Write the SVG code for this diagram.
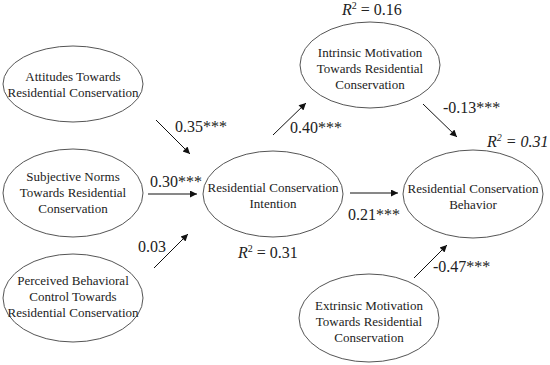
<svg xmlns="http://www.w3.org/2000/svg" width="550" height="365" viewBox="0 0 550 365">
<style>
text{font-family:'Liberation Serif','Times New Roman',serif;fill:#222}
.node ellipse{fill:#fff;stroke:#555;stroke-width:1}
.node text{font-size:13px;text-anchor:middle}
.lbl{font-size:16px}
#connectors line{stroke:#111;stroke-width:1;marker-end:url(#ah)}
</style>
<defs>
<marker id="ah" viewBox="0 0 10 10" refX="10" refY="5" markerWidth="9" markerHeight="7" markerUnits="userSpaceOnUse" orient="auto">
<path d="M0,0 L10,5 L0,10 z" fill="#111"/>
</marker>
</defs>
<rect width="550" height="365" fill="#fff"/>
<g id="att" class="node"><ellipse cx="73" cy="84" rx="70" ry="38"/><text x="73" y="81">Attitudes Towards</text><text x="73" y="97">Residential Conservation</text></g>
<g id="sn" class="node"><ellipse cx="73" cy="193" rx="70" ry="44"/><text x="73" y="181">Subjective Norms</text><text x="73" y="197">Towards Residential</text><text x="73" y="213">Conservation</text></g>
<g id="pbc" class="node"><ellipse cx="73" cy="298" rx="70" ry="44"/><text x="73" y="285">Perceived Behavioral</text><text x="73" y="301">Control Towards</text><text x="73" y="317">Residential Conservation</text></g>
<g id="int" class="node"><ellipse cx="273" cy="194" rx="70" ry="43"/><text x="273" y="192">Residential Conservation</text><text x="273" y="208">Intention</text></g>
<g id="im" class="node"><ellipse cx="370" cy="65" rx="70" ry="43"/><text x="370" y="57">Intrinsic Motivation</text><text x="370" y="73">Towards Residential</text><text x="370" y="89">Conservation</text></g>
<g id="beh" class="node"><ellipse cx="473" cy="194" rx="70" ry="44"/><text x="473" y="193">Residential Conservation</text><text x="473" y="209">Behavior</text></g>
<g id="em" class="node"><ellipse cx="369" cy="318" rx="70" ry="44"/><text x="369" y="310">Extrinsic Motivation</text><text x="369" y="326">Towards Residential</text><text x="369" y="342">Conservation</text></g>
<g id="connectors">
<line x1="156" y1="120" x2="190" y2="154"/>
<line x1="148" y1="194" x2="197" y2="194"/>
<line x1="154" y1="268" x2="188" y2="234"/>
<line x1="273" y1="135" x2="306" y2="103"/>
<line x1="423" y1="104" x2="457" y2="137"/>
<line x1="350" y1="193" x2="398" y2="193"/>
<line x1="414" y1="278" x2="447" y2="245"/>
</g>
<g id="labels">
<text class="lbl" x="175" y="132">0.35***</text>
<text class="lbl" x="150" y="187">0.30***</text>
<text class="lbl" x="138" y="252">0.03</text>
<text class="lbl" x="290" y="133">0.40***</text>
<text class="lbl" x="443" y="113">-0.13***</text>
<text class="lbl" x="348" y="220">0.21***</text>
<text class="lbl" x="433" y="272">-0.47***</text>
<text class="lbl" x="238" y="258"><tspan font-style="italic">R</tspan><tspan font-size="10" dy="-6">2</tspan><tspan dy="6"> = 0.31</tspan></text>
<text class="lbl" x="342" y="15"><tspan font-style="italic">R</tspan><tspan font-size="10" dy="-6">2</tspan><tspan dy="6"> = 0.16</tspan></text>
<text class="lbl" x="487" y="147" font-style="italic"><tspan>R</tspan><tspan font-size="10" dy="-6">2</tspan><tspan dy="6"> = 0.31</tspan></text>
</g>
</svg>
